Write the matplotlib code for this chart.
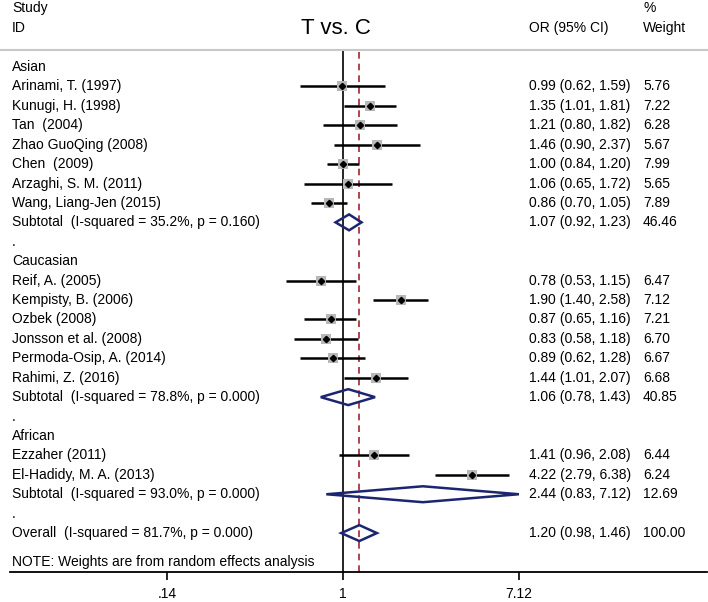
import matplotlib
matplotlib.use("Agg")
import matplotlib.pyplot as plt
from matplotlib.patches import Polygon
from matplotlib.lines import Line2D
from matplotlib.transforms import blended_transform_factory
import numpy as np

plt.rcParams['font.family'] = ['Liberation Sans', 'DejaVu Sans']

# ---- data ----
groups = ["Asian", "Caucasian", "African"]
asian_studies = ["Arinami, T. (1997)", "Kunugi, H. (1998)", "Tan  (2004)", "Zhao GuoQing (2008)",
                 "Chen  (2009)", "Arzaghi, S. M. (2011)", "Wang, Liang-Jen (2015)"]
asian_or = [0.99, 1.35, 1.21, 1.46, 1.00, 1.06, 0.86]
asian_lo = [0.62, 1.01, 0.80, 0.90, 0.84, 0.65, 0.70]
asian_hi = [1.59, 1.81, 1.82, 2.37, 1.20, 1.72, 1.05]
asian_w = [5.76, 7.22, 6.28, 5.67, 7.99, 5.65, 7.89]

cauc_studies = ["Reif, A. (2005)", "Kempisty, B. (2006)", "Ozbek (2008)", "Jonsson et al. (2008)",
                "Permoda-Osip, A. (2014)", "Rahimi, Z. (2016)"]
cauc_or = [0.78, 1.90, 0.87, 0.83, 0.89, 1.44]
cauc_lo = [0.53, 1.40, 0.65, 0.58, 0.62, 1.01]
cauc_hi = [1.15, 2.58, 1.16, 1.18, 1.28, 2.07]
cauc_w = [6.47, 7.12, 7.21, 6.70, 6.67, 6.68]

afr_studies = ["Ezzaher (2011)", "El-Hadidy, M. A. (2013)"]
afr_or = [1.41, 4.22]
afr_lo = [0.96, 2.79]
afr_hi = [2.08, 6.38]
afr_w = [6.44, 6.24]

sub_labels = ["Subtotal  (I-squared = 35.2%, p = 0.160)",
              "Subtotal  (I-squared = 78.8%, p = 0.000)",
              "Subtotal  (I-squared = 93.0%, p = 0.000)"]
sub_or = [1.07, 1.06, 2.44]
sub_lo = [0.92, 0.78, 0.83]
sub_hi = [1.23, 1.43, 7.12]
sub_w = [46.46, 40.85, 12.69]

overall_label = "Overall  (I-squared = 81.7%, p = 0.000)"
overall_or = 1.20
overall_lo = 0.98
overall_hi = 1.46
overall_w = 100.00

note = "NOTE: Weights are from random effects analysis"
xticks = [0.14, 1, 7.12]
xtick_labels = [".14", "1", "7.12"]

# ---- figure ----
W, H = 708, 602
fig = plt.figure(figsize=(W / 100, H / 100), dpi=100)
ax_l, ax_r, ax_t, ax_b = 10, 707, 50, 572
ax = fig.add_axes([ax_l / W, 1 - ax_b / H, (ax_r - ax_l) / W, (ax_b - ax_t) / H])

x1_px = 343.0
ppl = 89.6  # pixels per ln unit
ax.set_xscale('log')
ax.set_xlim(np.exp((ax_l - x1_px) / ppl), np.exp((ax_r - x1_px) / ppl))
row0_px, rowsp = 67.0, 19.42
ax.set_ylim((ax_b - row0_px) / rowsp, (ax_t - row0_px) / rowsp)

for s in ['top', 'left', 'right']:
    ax.spines[s].set_visible(False)
ax.spines['bottom'].set_linewidth(1.3)
ax.set_yticks([])
ax.set_xticks(xticks)
ax.set_xticklabels(xtick_labels, fontsize=10)
ax.xaxis.set_minor_locator(matplotlib.ticker.NullLocator())
ax.tick_params(axis='x', length=6, width=1.2, pad=5)

ax.axvline(1, color='black', lw=1.2, zorder=1)
ax.axvline(overall_or, color='#a0282d', lw=1.2, ls=(0, (4, 3)), zorder=1)

tr = blended_transform_factory(fig.transFigure, ax.transData)
fs = 10
x_lab = 12 / W
x_or = 529 / W
x_wt = 643 / W

def fmt(o, l, h):
    return f"{o:.2f} ({l:.2f}, {h:.2f})"

def diamond(row, o, l, h):
    hh = 0.41
    poly = Polygon([[l, row], [o, row - hh], [h, row], [o, row + hh]], closed=True,
                   fill=False, edgecolor='#1c2670', lw=1.8, zorder=3)
    ax.add_patch(poly)

row = 0
study_sets = [(asian_studies, asian_or, asian_lo, asian_hi, asian_w),
              (cauc_studies, cauc_or, cauc_lo, cauc_hi, cauc_w),
              (afr_studies, afr_or, afr_lo, afr_hi, afr_w)]
for gi, (names, ors, los, his, ws) in enumerate(study_sets):
    ax.text(x_lab, row, groups[gi], transform=tr, fontsize=fs, va='center', ha='left')
    row += 1
    for n, o, l, h, w in zip(names, ors, los, his, ws):
        ax.plot([l, h], [row, row], color='black', lw=1.8, zorder=2, solid_capstyle='butt')
        ax.plot([o], [row], marker='s', color='#b8b8b8', markersize=np.sqrt(w) * 2.75,
                markeredgewidth=0, zorder=3)
        ax.plot([o], [row], marker='D', color='black', markersize=3.2, zorder=4)
        ax.text(x_lab, row, n, transform=tr, fontsize=fs, va='center', ha='left')
        ax.text(x_or, row, fmt(o, l, h), transform=tr, fontsize=fs, va='center', ha='left')
        ax.text(x_wt, row, f"{w:.2f}", transform=tr, fontsize=fs, va='center', ha='left')
        row += 1
    diamond(row, sub_or[gi], sub_lo[gi], sub_hi[gi])
    ax.text(x_lab, row, sub_labels[gi], transform=tr, fontsize=fs, va='center', ha='left')
    ax.text(x_or, row, fmt(sub_or[gi], sub_lo[gi], sub_hi[gi]), transform=tr, fontsize=fs,
            va='center', ha='left')
    ax.text(x_wt, row, f"{sub_w[gi]:.2f}", transform=tr, fontsize=fs, va='center', ha='left')
    row += 1
    ax.text(x_lab, row, ".", transform=tr, fontsize=fs, va='center', ha='left')
    row += 1

diamond(row, overall_or, overall_lo, overall_hi)
ax.text(x_lab, row, overall_label, transform=tr, fontsize=fs, va='center', ha='left')
ax.text(x_or, row, fmt(overall_or, overall_lo, overall_hi), transform=tr, fontsize=fs,
        va='center', ha='left')
ax.text(x_wt, row, f"{overall_w:.2f}", transform=tr, fontsize=fs, va='center', ha='left')
row += 1.5
ax.text(x_lab, row, note, transform=tr, fontsize=fs, va='center', ha='left')

# header
fig.add_artist(Line2D([0, 1], [1 - 50 / H, 1 - 50 / H], transform=fig.transFigure,
                      color='#c8c8c8', lw=1.5))
fig.text(12 / W, 1 - 8 / H, "Study", fontsize=fs, va='center', ha='left')
fig.text(12 / W, 1 - 28 / H, "ID", fontsize=fs, va='center', ha='left')
fig.text(336 / W, 1 - 29 / H, "T vs. C", fontsize=16, va='center', ha='center')
fig.text(x_or, 1 - 28 / H, "OR (95% CI)", fontsize=fs, va='center', ha='left')
fig.text(x_wt, 1 - 8 / H, "%", fontsize=fs, va='center', ha='left')
fig.text(x_wt, 1 - 28 / H, "Weight", fontsize=fs, va='center', ha='left')

fig.savefig("out.png", dpi=100, facecolor='white')
